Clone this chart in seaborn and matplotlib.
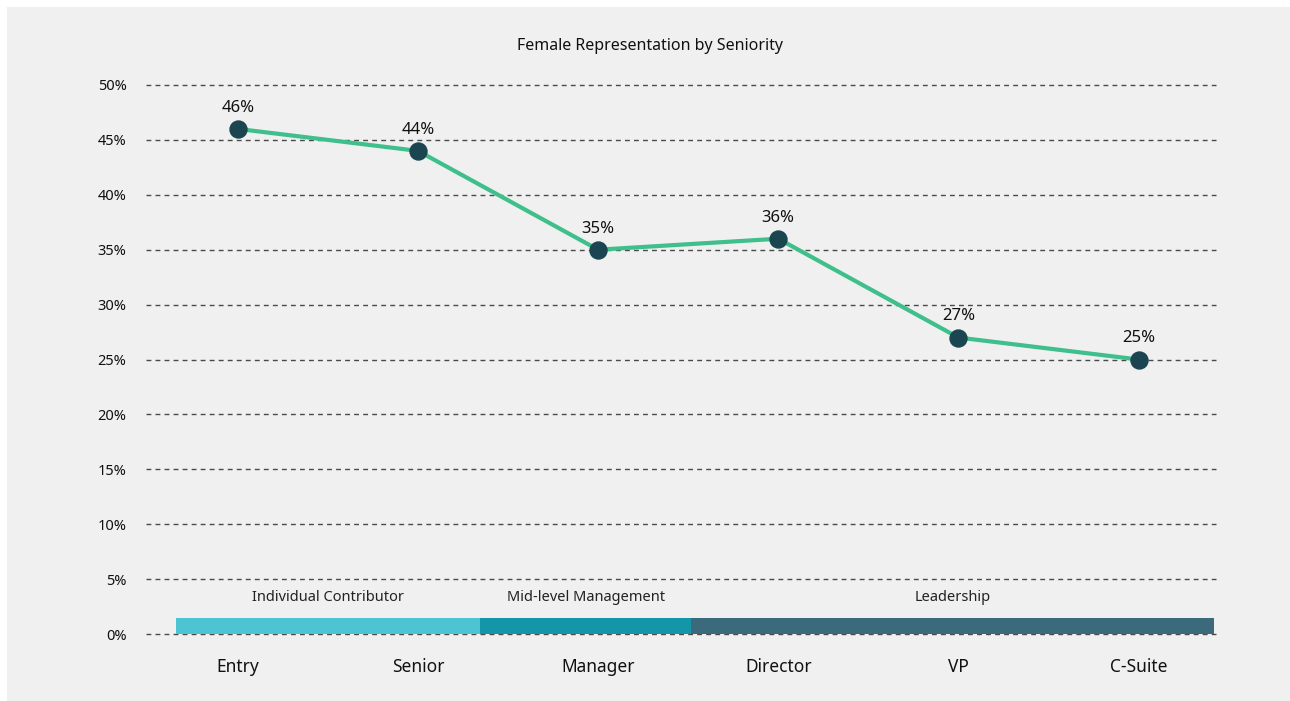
import matplotlib
matplotlib.use("Agg")
import matplotlib.pyplot as plt
import pandas as pd
import seaborn as sns
from matplotlib.patches import Rectangle

LEVELS = ["Entry", "Senior", "Manager", "Director", "VP", "C-Suite"]
FEMALE_PCT = [46, 44, 35, 36, 27, 25]

GROUPS = ["Individual Contributor", "Mid-level Management", "Leadership"]
GROUP_COLORS = ["#4dc4d1", "#1596a8", "#3a6a7c"]
# band edges in x units (category index)
GROUP_EDGES = [-0.344, 1.344, 2.517, 5.42]

BG = "#f0f0f0"

sns.set_theme(style="white")
plt.rcParams["font.family"] = ["Noto Sans", "DejaVu Sans"]

df = pd.DataFrame({"level": LEVELS, "pct": FEMALE_PCT})
df["x"] = range(len(df))

fig = plt.figure(figsize=(12.9, 7.01), dpi=100, facecolor="white")
fig.patches.append(Rectangle((7 / 1290, 0), 1, 1 - 7 / 701,
                             transform=fig.transFigure, facecolor=BG,
                             edgecolor="none", zorder=-10))
ax = fig.add_axes([146 / 1290, 1 - 634 / 701, (1216 - 146) / 1290, (634 - 85) / 701])
ax.set_facecolor(BG)

# gridlines
for y in range(0, 51, 5):
    ax.axhline(y, color="#4a4a4a", lw=1.0, ls=(0, (3.5, 3)), zorder=1, clip_on=False)

# grouping bands along the bottom
for i, g in enumerate(GROUPS):
    x0, x1 = GROUP_EDGES[i], GROUP_EDGES[i + 1]
    ax.add_patch(Rectangle((x0, 0), x1 - x0, 1.5, facecolor=GROUP_COLORS[i],
                           edgecolor="none", zorder=2))
    ax.text((x0 + x1) / 2, 3.3, g, ha="center", va="center", fontsize=10.5,
            color="#222222", zorder=3)

sns.lineplot(data=df, x="x", y="pct", ax=ax, color="#3fbf8b", lw=3, zorder=4)
sns.scatterplot(data=df, x="x", y="pct", ax=ax, color="#1b4550", s=150,
                edgecolor="#1b4550", zorder=5)

for xi, v in zip(df["x"], df["pct"]):
    ax.annotate(f"{v}%", (xi, v), xytext=(0, 9.5), textcoords="offset points",
                ha="center", va="bottom", fontsize=12, color="#111111")

ax.set_xlim(-0.51, 5.43)
ax.set_ylim(0, 50)
ax.set_yticks(range(0, 51, 5))
ax.set_yticklabels([f"{y}%" for y in range(0, 51, 5)], fontsize=10.5, color="#111111")
ax.set_xticks(df["x"])
ax.set_xticklabels(LEVELS, fontsize=12.5, color="#111111")
ax.tick_params(axis="y", length=0, pad=14)
ax.tick_params(axis="x", length=0, pad=17)
ax.set_xlabel("")
ax.set_ylabel("")
sns.despine(ax=ax, left=True, bottom=True)

fig.text(650 / 1290, 1 - 46 / 701, "Female Representation by Seniority",
         ha="center", va="center", fontsize=11.5, color="#111111")

fig.savefig("out.png", dpi=100, facecolor="white")
